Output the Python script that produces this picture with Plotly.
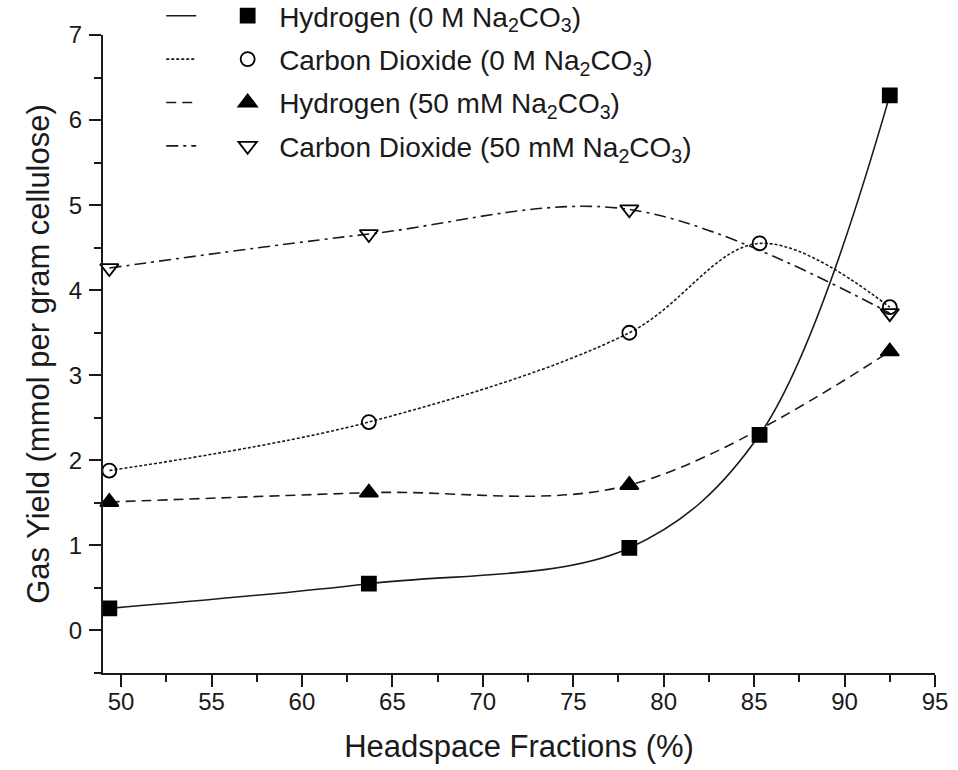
import plotly.graph_objects as go

# ---- data ----
x5 = [49.35, 63.7, 78.1, 85.3, 92.5]
x4 = [49.35, 63.7, 78.1, 92.5]
h2_0 = [0.26, 0.55, 0.97, 2.30, 6.29]
co2_0 = [1.88, 2.45, 3.50, 4.55, 3.80]
h2_50 = [1.51, 1.62, 1.71, 3.28]
co2_50 = [4.26, 4.66, 4.95, 3.73]

names = [
    "Hydrogen (0 M Na<sub>2</sub>CO<sub>3</sub>)",
    "Carbon Dioxide (0 M Na<sub>2</sub>CO<sub>3</sub>)",
    "Hydrogen (50 mM Na<sub>2</sub>CO<sub>3</sub>)",
    "Carbon Dioxide (50 mM Na<sub>2</sub>CO<sub>3</sub>)",
]
xs = [x5, x5, x4, x4]
ys = [h2_0, co2_0, h2_50, co2_50]
dashes = ["solid", "3px,2px", "10px,6px", "12px,5px,3px,5px"]
symbols = ["square", "circle-open", "triangle-up", "triangle-down-open"]
msizes = [14, 14, 16, 16]

FONT = "Liberation Sans, Arial, sans-serif"
INK = "#1a1a1a"

fig = go.Figure()
for i in range(4):
    fig.add_trace(go.Scatter(
        x=xs[i], y=ys[i], mode="lines", name=" ",
        line=dict(color=INK, width=1.6, dash=dashes[i], shape="spline", smoothing=1.0),
        legend="legend", legendgroup=f"g{i}", hoverinfo="skip",
    ))
for i in range(4):
    fig.add_trace(go.Scatter(
        x=xs[i], y=ys[i], mode="markers", name=names[i],
        marker=dict(symbol=symbols[i], size=msizes[i], color="#000",
                    line=dict(color="#000", width=1.8)),
        legend="legend2", legendgroup=f"m{i}", cliponaxis=False,
    ))

axis_common = dict(
    showline=True, linewidth=2, linecolor=INK, ticks="outside",
    ticklen=12, tickwidth=1.6, tickcolor=INK, showgrid=False, zeroline=False,
    tickfont=dict(family=FONT, size=24, color=INK), mirror=False,
)
fig.update_xaxes(
    range=[49.0, 95.0], tick0=50, dtick=5, ticklabelstandoff=-6,
    minor=dict(ticks="outside", ticklen=7, tickwidth=1.6, tickcolor=INK, dtick=2.5, tick0=50),
    title=dict(text="Headspace Fractions (%)", font=dict(family=FONT, size=31, color=INK), standoff=22),
    **axis_common,
)
fig.update_yaxes(
    range=[-0.5, 7.0], tick0=0, dtick=1, ticklabelstandoff=2,
    minor=dict(ticks="outside", ticklen=7, tickwidth=1.6, tickcolor=INK, dtick=0.5, tick0=0),
    title=dict(text="Gas Yield (mmol per gram cellulose)", font=dict(family=FONT, size=31, color=INK), standoff=10),
    **axis_common,
)

fig.update_layout(
    width=958, height=770, autosize=False,
    margin=dict(l=103, r=23, t=35, b=97, autoexpand=False),
    paper_bgcolor="white", plot_bgcolor="white",
    legend=dict(x=0.07, y=1.069, xanchor="left", yanchor="top", bgcolor="rgba(0,0,0,0)",
                font=dict(family=FONT, size=28, color=INK), tracegroupgap=4, itemwidth=30),
    legend2=dict(x=0.136, y=1.069, xanchor="left", yanchor="top", bgcolor="rgba(0,0,0,0)",
                 font=dict(family=FONT, size=28, color=INK), tracegroupgap=4, itemwidth=53),
)

fig.write_html("out.html")
